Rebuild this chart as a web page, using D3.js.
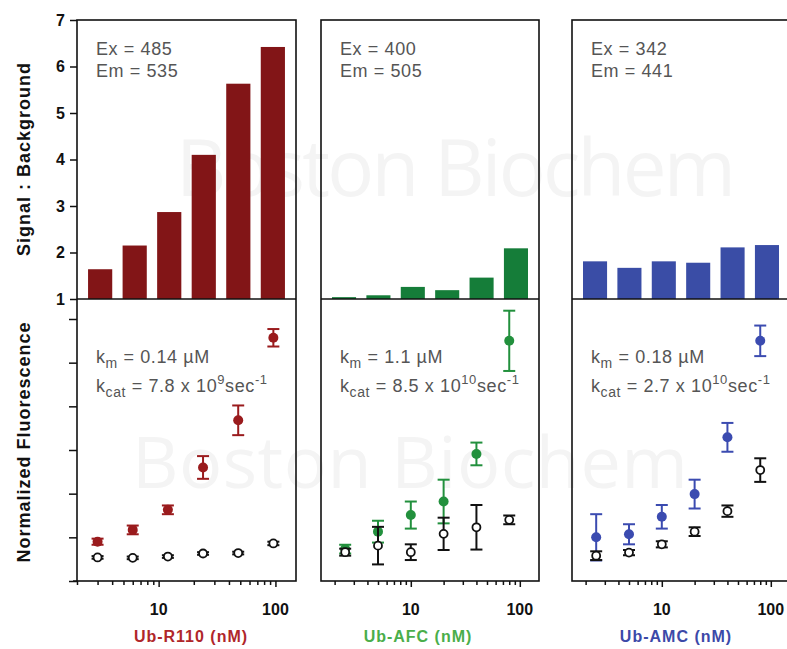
<!DOCTYPE html>
<html><head><meta charset="utf-8">
<script src="https://cdn.jsdelivr.net/npm/d3@7"></script>
<style>
html,body{margin:0;padding:0;background:#fff;}
svg{display:block;font-family:"Liberation Sans",Arial,sans-serif;}
</style></head>
<body><svg id="c" width="787" height="649"></svg>
<script>
// ---- data ----
const substrates = ["Ub-R110 (nM)", "Ub-AFC (nM)", "Ub-AMC (nM)"];
const exLabels = ["Ex = 485", "Ex = 400", "Ex = 342"];
const emLabels = ["Em = 535", "Em = 505", "Em = 441"];
const kmLabels = ["0.14 µM", "1.1 µM", "0.18 µM"];
const kcatMant = ["7.8", "8.5", "2.7"];
const kcatExp = ["9", "10", "10"];
const yTicksTop = [1, 2, 3, 4, 5, 6, 7];
const yTicksBottom = [0, 1, 2, 3, 4, 5, 6];
const xTickLabels = [10, 100];

const concR110 = [3, 6, 12, 24, 48, 96];
const concAFC = [2.5, 5, 10, 20, 40, 80];
const concAMC = [2.5, 5, 10, 20, 40, 80];

const ratioR110 = [1.64, 2.15, 2.87, 4.10, 5.63, 6.42];
const ratioAFC = [1.04, 1.08, 1.26, 1.19, 1.46, 2.09];
const ratioAMC = [1.81, 1.67, 1.81, 1.78, 2.11, 2.16];

const sigR110 = [0.90, 1.17, 1.63, 2.60, 3.68, 5.57];
const sigErrR110 = [0.07, 0.10, 0.10, 0.26, 0.34, 0.20];
const bgR110 = [0.54, 0.53, 0.56, 0.63, 0.64, 0.86];
const bgErrR110 = [0.03, 0.03, 0.03, 0.03, 0.03, 0.04];

const sigAFC = [0.73, 1.13, 1.51, 1.82, 2.91, 5.50];
const sigErrAFC = [0.10, 0.25, 0.31, 0.50, 0.26, 0.69];
const bgAFC = [0.66, 0.81, 0.66, 1.08, 1.23, 1.40];
const bgErrAFC = [0.08, 0.43, 0.18, 0.37, 0.51, 0.10];

const sigAMC = [1.00, 1.07, 1.47, 1.99, 3.29, 5.50];
const sigErrAMC = [0.53, 0.23, 0.27, 0.33, 0.33, 0.35];
const bgAMC = [0.58, 0.65, 0.84, 1.13, 1.60, 2.54];
const bgErrAMC = [0.10, 0.06, 0.07, 0.10, 0.13, 0.27];

const barColors = ["#821517", "#157d39", "#3a4da6"];
const pointColors = ["#9a1b1d", "#22903d", "#3b4bb0"];
const labelColors = ["#b0262a", "#4aae4a", "#3c49a8"];

// ---- layout ----
const panels = [
  {x0: 77, x1: 296, dom: [2, 150], labelX: 191, conc: concR110, ratio: ratioR110, sig: sigR110, sigErr: sigErrR110, bg: bgR110, bgErr: bgErrR110},
  {x0: 321, x1: 539, dom: [1.5, 150], labelX: 418, conc: concAFC, ratio: ratioAFC, sig: sigAFC, sigErr: sigErrAFC, bg: bgAFC, bgErr: bgErrAFC},
  {x0: 572, x1: 790, dom: [1.5, 150], labelX: 676, conc: concAMC, ratio: ratioAMC, sig: sigAMC, sigErr: sigErrAMC, bg: bgAMC, bgErr: bgErrAMC}
];
const topY0 = 20, midY = 299, botY = 581;
const yTop = d3.scaleLinear().domain([1, 7]).range([midY, topY0]);
const yBot = d3.scaleLinear().domain([0, 6]).range([botY, 319]);

const svg = d3.select("#c");

// watermark
const wm = svg.append("g").attr("fill", "#f4f4f4").attr("font-family", "'Open Sans',sans-serif");
wm.append("text").attr("x", 176).attr("y", 196).attr("font-size", 78).attr("textLength", 560).text("Boston Biochem");
wm.append("text").attr("x", 132).attr("y", 488).attr("font-size", 72).attr("textLength", 556).text("Boston Biochem");

panels.forEach((p, i) => {
  const g = svg.append("g");
  const xLog = d3.scaleLog().domain(p.dom).range([p.x0, p.x1]);
  const xBand = d3.scaleBand().domain(d3.range(p.ratio.length)).range([p.x0, p.x1]).paddingInner(0.3).paddingOuter(0.32);

  // bars
  g.selectAll("rect.bar").data(p.ratio).join("rect")
    .attr("x", (d, j) => xBand(j)).attr("width", xBand.bandwidth())
    .attr("y", d => yTop(d)).attr("height", d => yTop(1) - yTop(d))
    .attr("fill", barColors[i]);

  // frames
  g.append("rect").attr("x", p.x0).attr("y", topY0).attr("width", p.x1 - p.x0).attr("height", botY - topY0)
    .attr("fill", "none").attr("stroke", "#111").attr("stroke-width", 1.6);
  g.append("line").attr("x1", p.x0).attr("x2", p.x1).attr("y1", midY).attr("y2", midY)
    .attr("stroke", "#111").attr("stroke-width", 1.6);

  // x axis (log)
  const minor = [];
  [1, 10, 100].forEach(dec => { for (let m = 1; m < 10; m++) { const v = dec * m; if (v >= p.dom[0] && v <= p.dom[1]) minor.push(v); } });
  const xa = g.append("g").attr("transform", `translate(0,${botY})`)
    .call(d3.axisBottom(xLog).tickValues(minor).tickSize(4).tickSizeOuter(0).tickFormat(() => ""));
  xa.select(".domain").remove();
  xa.selectAll(".tick line").attr("stroke", "#111").attr("stroke-width", 1.5)
    .attr("y2", d => (d === 10 || d === 100) ? 6 : 4);
  g.selectAll("text.xtl").data(xTickLabels).join("text")
    .attr("x", d => xLog(d)).attr("y", 615).attr("text-anchor", "middle")
    .attr("font-size", 16).attr("font-weight", "bold").attr("fill", "#111").text(d => d);

  g.append("text").attr("x", p.labelX).attr("y", 642)
    .attr("text-anchor", "middle").attr("font-size", 16).attr("font-weight", "bold")
    .attr("letter-spacing", 1).attr("fill", labelColors[i]).text(substrates[i]);

  // annotation text
  const tx = p.x0 + 19;
  const ann = g.append("g").attr("fill", "#555").attr("font-size", 18).attr("letter-spacing", 0.6);
  ann.append("text").attr("x", tx).attr("y", 55).text(exLabels[i]);
  ann.append("text").attr("x", tx).attr("y", 77).text(emLabels[i]);
  const km = ann.append("text").attr("x", tx).attr("y", 363);
  km.append("tspan").text("k");
  km.append("tspan").attr("font-size", 14).attr("dy", 5).text("m");
  km.append("tspan").attr("dy", -5).text(" = " + kmLabels[i]);
  const kc = ann.append("text").attr("x", tx).attr("y", 392);
  kc.append("tspan").text("k");
  kc.append("tspan").attr("font-size", 14).attr("dy", 5).text("cat");
  kc.append("tspan").attr("dy", -5).text(" = " + kcatMant[i] + " x 10");
  kc.append("tspan").attr("font-size", 13).attr("dy", -8).text(kcatExp[i]);
  kc.append("tspan").attr("dy", 8).text("sec");
  kc.append("tspan").attr("font-size", 13).attr("dy", -8).text("-1");

  // points
  const drawSeries = (vals, errs, color, filled) => {
    const sg = g.append("g");
    vals.forEach((v, j) => {
      const cx = xLog(p.conc[j]);
      sg.append("line").attr("x1", cx).attr("x2", cx).attr("y1", yBot(v - errs[j])).attr("y2", yBot(v + errs[j]))
        .attr("stroke", color).attr("stroke-width", 2);
      [v - errs[j], v + errs[j]].forEach(e => sg.append("line").attr("x1", cx - 6).attr("x2", cx + 6)
        .attr("y1", yBot(e)).attr("y2", yBot(e)).attr("stroke", color).attr("stroke-width", 2));
      sg.append("circle").attr("cx", cx).attr("cy", yBot(v)).attr("r", filled ? 5 : 4)
        .attr("fill", filled ? color : "#fff").attr("stroke", color).attr("stroke-width", filled ? 0 : 1.8);
    });
  };
  drawSeries(p.sig, p.sigErr, pointColors[i], true);
  drawSeries(p.bg, p.bgErr, "#111", false);

  if (i === 0) {
    const ya = g.append("g").attr("transform", `translate(${p.x0},0)`)
      .call(d3.axisLeft(yTop).tickValues(yTicksTop).tickSize(7).tickPadding(5).tickFormat(d3.format("d")));
    ya.select(".domain").remove();
    ya.selectAll(".tick line").attr("stroke", "#111").attr("stroke-width", 1.5);
    ya.selectAll(".tick text").attr("font-size", 16).attr("font-weight", "bold").attr("fill", "#111")
      .attr("font-family", "'Liberation Sans',Arial,sans-serif");
    const yb = g.append("g").attr("transform", `translate(${p.x0},0)`)
      .call(d3.axisLeft(yBot).tickValues(yTicksBottom).tickSize(8).tickFormat(() => ""));
    yb.select(".domain").remove();
    yb.selectAll(".tick line").attr("stroke", "#111").attr("stroke-width", 1.5);
    g.append("line").attr("x1", p.x0 - 4).attr("x2", p.x0).attr("y1", botY).attr("y2", botY).attr("stroke", "#111").attr("stroke-width", 1.5);
  }
});

// y titles
svg.append("text").attr("transform", "translate(30,159) rotate(-90)").attr("text-anchor", "middle")
  .attr("font-size", 18).attr("font-weight", "bold").attr("letter-spacing", 1).attr("fill", "#111").text("Signal : Background");
svg.append("text").attr("transform", "translate(30,442) rotate(-90)").attr("text-anchor", "middle")
  .attr("font-size", 18).attr("font-weight", "bold").attr("letter-spacing", 1).attr("fill", "#111").text("Normalized Fluorescence");
</script></body></html>
